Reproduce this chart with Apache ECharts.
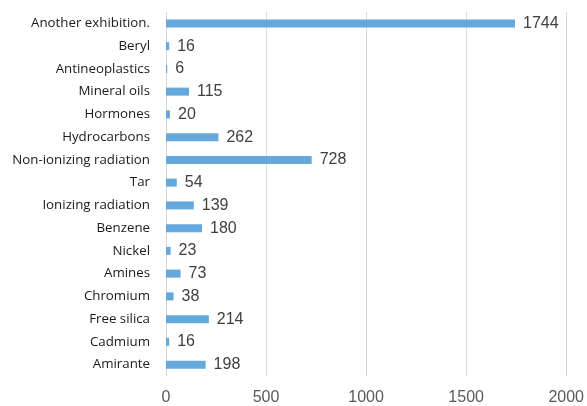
<!DOCTYPE html>
<html>
<head>
<meta charset="utf-8">
<style>
  html, body { margin: 0; padding: 0; background: #fff; }
  #chart { width: 587px; height: 406px; }
</style>
<script src="https://cdn.jsdelivr.net/npm/echarts@6/dist/echarts.min.js"></script>
</head>
<body>
<div id="chart"></div>
<script>
// Exposure agents, listed top to bottom
const categories = [
  'Another exhibition.', 'Beryl', 'Antineoplastics', 'Mineral oils', 'Hormones',
  'Hydrocarbons', 'Non-ionizing radiation', 'Tar', 'Ionizing radiation', 'Benzene',
  'Nickel', 'Amines', 'Chromium', 'Free silica', 'Cadmium', 'Amirante'
];
const counts = [1744, 16, 6, 115, 20, 262, 728, 54, 139, 180, 23, 73, 38, 214, 16, 198];
const xTicks = [0, 500, 1000, 1500, 2000];

const chart = echarts.init(document.getElementById('chart'), null, { renderer: 'canvas' });

chart.setOption({
  animation: false,
  grid: { left: 166, right: 19, top: 12, bottom: 26, containLabel: false },
  xAxis: {
    type: 'value',
    min: xTicks[0],
    max: xTicks[xTicks.length - 1],
    interval: 500,
    axisLine: { show: false },
    axisTick: { show: false },
    splitLine: { show: true, lineStyle: { color: '#d9d9d9', width: 1 } },
    axisLabel: {
      margin: 14,
      color: '#595959',
      fontFamily: 'Liberation Sans, Arial, sans-serif',
      fontSize: 16,
      formatter: (v) => String(v)
    }
  },
  yAxis: {
    type: 'category',
    inverse: true,
    data: categories,
    axisLine: { show: false },
    axisTick: { show: false },
    axisLabel: {
      margin: 16,
      color: '#1a1a1a',
      fontFamily: 'Open Sans, sans-serif',
      fontSize: 13.3
    }
  },
  series: [{
    type: 'bar',
    data: counts,
    barWidth: 8,
    itemStyle: { color: '#65a9dc' },
    label: {
      show: true,
      position: 'right',
      distance: 8,
      color: '#404040',
      fontFamily: 'Liberation Sans, Arial, sans-serif',
      fontSize: 16
    }
  }]
});
</script>
</body>
</html>
